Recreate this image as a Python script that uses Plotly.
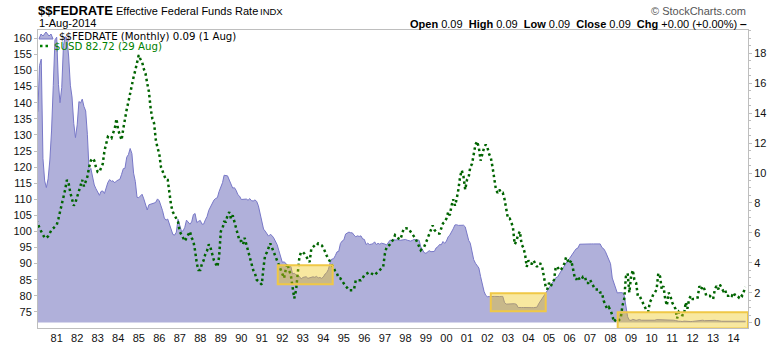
import pandas as pd
import plotly.graph_objects as go

# Effective federal funds rate, monthly averages (%), Jan 1980 - Aug 2014
fedrate = [
    13.82, 14.13, 17.19, 17.61, 10.98, 9.47, 9.03, 9.61, 10.87, 12.81, 15.85, 18.90,
    19.08, 15.93, 14.70, 15.72, 18.52, 19.10, 19.04, 17.82, 15.87, 15.08, 13.31, 12.37,
    13.22, 14.78, 14.68, 14.94, 14.45, 14.15, 12.59, 10.12, 10.31, 9.71, 9.20, 8.95,
    8.68, 8.51, 8.77, 8.80, 8.63, 8.98, 9.37, 9.56, 9.45, 9.48, 9.34, 9.47,
    9.56, 9.59, 9.91, 10.29, 10.32, 11.06, 11.23, 11.64, 11.30, 9.99, 9.43, 8.38,
    8.35, 8.50, 8.58, 8.27, 7.97, 7.53, 7.88, 7.90, 7.92, 7.99, 8.05, 8.27,
    8.14, 7.86, 7.48, 6.99, 6.85, 6.92, 6.56, 6.17, 5.89, 5.85, 6.04, 6.91,
    6.43, 6.10, 6.13, 6.37, 6.85, 6.73, 6.58, 6.73, 7.22, 7.29, 6.69, 6.77,
    6.83, 6.58, 6.58, 6.87, 7.09, 7.51, 7.75, 8.01, 8.19, 8.30, 8.35, 8.76,
    9.12, 9.36, 9.85, 9.84, 9.81, 9.53, 9.24, 8.99, 9.02, 8.84, 8.55, 8.45,
    8.23, 8.24, 8.28, 8.26, 8.18, 8.29, 8.15, 8.13, 8.20, 8.11, 7.81, 7.31,
    6.91, 6.25, 6.12, 5.91, 5.78, 5.90, 5.82, 5.66, 5.45, 5.21, 4.81, 4.43,
    4.03, 4.06, 3.98, 3.73, 3.82, 3.76, 3.25, 3.30, 3.22, 3.10, 3.09, 2.92,
    3.02, 3.03, 3.07, 2.96, 3.00, 3.04, 3.06, 3.03, 3.09, 2.99, 3.02, 2.96,
    3.05, 3.25, 3.34, 3.56, 4.01, 4.25, 4.26, 4.47, 4.73, 4.76, 5.29, 5.45,
    5.53, 5.92, 5.98, 6.05, 6.01, 6.00, 5.85, 5.74, 5.80, 5.76, 5.80, 5.60,
    5.56, 5.22, 5.31, 5.22, 5.24, 5.27, 5.40, 5.22, 5.30, 5.24, 5.31, 5.29,
    5.25, 5.19, 5.39, 5.51, 5.50, 5.56, 5.52, 5.54, 5.54, 5.50, 5.52, 5.50,
    5.56, 5.51, 5.49, 5.45, 5.49, 5.56, 5.54, 5.55, 5.51, 5.07, 4.83, 4.68,
    4.63, 4.76, 4.81, 4.74, 4.74, 4.76, 4.99, 5.07, 5.22, 5.20, 5.42, 5.30,
    5.45, 5.73, 5.85, 6.02, 6.27, 6.53, 6.54, 6.50, 6.52, 6.51, 6.51, 6.40,
    5.98, 5.49, 5.31, 4.80, 4.21, 3.97, 3.77, 3.65, 3.07, 2.49, 2.09, 1.82,
    1.73, 1.74, 1.73, 1.75, 1.75, 1.75, 1.73, 1.74, 1.75, 1.75, 1.34, 1.24,
    1.24, 1.26, 1.25, 1.26, 1.26, 1.22, 1.01, 1.03, 1.01, 1.01, 1.00, 0.98,
    1.00, 1.01, 1.00, 1.00, 1.00, 1.03, 1.26, 1.43, 1.61, 1.76, 1.93, 2.16,
    2.28, 2.50, 2.63, 2.79, 3.00, 3.04, 3.26, 3.50, 3.62, 3.78, 4.00, 4.16,
    4.29, 4.49, 4.59, 4.79, 4.94, 4.99, 5.24, 5.25, 5.25, 5.25, 5.25, 5.24,
    5.25, 5.26, 5.26, 5.25, 5.25, 5.25, 5.26, 5.02, 4.94, 4.76, 4.49, 4.24,
    3.94, 2.98, 2.61, 2.28, 1.98, 2.00, 2.01, 2.00, 1.81, 0.97, 0.39, 0.16,
    0.15, 0.22, 0.18, 0.15, 0.18, 0.21, 0.16, 0.16, 0.15, 0.12, 0.12, 0.12,
    0.11, 0.13, 0.16, 0.20, 0.20, 0.18, 0.18, 0.19, 0.19, 0.19, 0.19, 0.18,
    0.17, 0.16, 0.14, 0.10, 0.09, 0.09, 0.07, 0.10, 0.08, 0.07, 0.08, 0.07,
    0.08, 0.10, 0.13, 0.14, 0.16, 0.16, 0.16, 0.13, 0.14, 0.16, 0.16, 0.16,
    0.14, 0.15, 0.14, 0.15, 0.11, 0.09, 0.09, 0.08, 0.08, 0.09, 0.08, 0.09,
    0.07, 0.07, 0.08, 0.09, 0.09, 0.10, 0.09, 0.09,
]

# US Dollar Index, monthly, Jan 1980 - Aug 2014
usd = [
    103.5, 102.5, 101, 100, 99, 98, 98, 98.5, 99.5, 100.5, 101, 101.5,
    102, 104, 106, 108, 110, 113, 116, 115, 112, 110, 108, 109,
    111, 113, 114, 116, 114, 115.5, 117, 120, 122, 122.7, 122, 120,
    118.5, 118.5, 120, 121, 125, 127, 129.4, 129, 128.9, 130.5, 132, 135,
    131.5, 130, 128.4, 132, 135.6, 138, 140.3, 143, 146, 148, 150.1, 153,
    154.8, 153.5, 152.7, 150.5, 149.1, 146, 143.4, 138.2, 135, 133.6, 128.4, 126,
    124.2, 120, 118.5, 117, 116, 116, 112, 108, 106, 105, 104, 103,
    100, 99, 98, 97, 98, 99, 100, 98, 97, 94, 90, 88,
    88, 90, 91, 93, 94, 96, 95, 93, 91, 90, 89, 92,
    100, 101, 103, 103, 105, 106, 104, 105, 103, 101, 99, 97,
    97, 96, 98, 96, 94, 92, 90, 88, 87, 85, 84.5, 84,
    83.5, 89, 92.6, 93.5, 94.7, 96.3, 95, 93.6, 92, 91, 89.5, 88,
    86.4, 85.5, 88, 90, 88, 86.4, 82.8, 79.2, 81.7, 88, 92.1, 93.6,
    93.6, 93, 92.1, 91, 90.5, 94.7, 95.2, 95.7, 95.5, 96.3, 96, 95.7,
    95, 93.6, 92.5, 91.6, 90.5, 89.5, 88.9, 87.5, 86.9, 85.5, 85.4, 84.5,
    83.8, 83, 82.5, 81.7, 81.7, 81.7, 82, 84.8, 84.8, 84.8, 84.8, 85.5,
    86.4, 86.8, 87, 87.4, 87, 86.8, 86.4, 87, 87.4, 88, 88.5, 89,
    93.1, 95.2, 95.5, 96, 96.8, 97.5, 98.9, 98.5, 97.8, 97.5, 99, 100.9,
    101, 101, 100.9, 100, 99.4, 98.5, 97.8, 96.5, 95.2, 94.2, 94.8, 95.2,
    96.5, 98, 99.4, 100.5, 101.9, 100.5, 99.9, 99.4, 99.4, 101, 102.5, 103,
    104, 106, 105, 108, 110, 108, 110, 113, 117, 119, 117, 113,
    116, 117, 120, 121, 124, 127, 128, 126, 122, 124, 126, 127,
    126, 124, 123, 120, 117, 113, 112, 113, 112, 112, 110, 107,
    104, 104, 103, 101, 96, 97, 99, 100, 96, 95, 93, 89,
    91, 90, 90, 91, 90, 89, 90, 90, 89, 86, 83, 82,
    84, 83, 84, 85, 89, 89, 88, 88, 89, 90, 92, 91,
    90, 91, 89, 86, 85, 86, 85, 85, 86, 86, 84, 84,
    85, 84, 83, 82, 82, 82, 81, 81, 78.5, 77, 76, 76.5,
    75.5, 74, 71.9, 72.5, 73, 72.5, 73, 77, 79, 86, 87, 81,
    86, 88, 85, 84, 80, 80, 79, 78, 76.5, 75.5, 75, 78,
    79, 80.5, 81, 82, 87, 86, 82, 83, 79, 77, 81, 80,
    78, 77, 76, 73, 75, 74.5, 74, 74, 78, 76, 79, 80,
    79, 79, 79.5, 79.5, 83, 82, 83, 82, 80, 80, 80, 79.5,
    79, 82, 83, 82, 83.5, 82.5, 81.5, 82, 80, 80, 80.5, 80,
    81, 80, 80, 79.5, 80.5, 80, 81.5, 82.72,
]

# Highlighted periods of very low policy rates (start, end, low %, high %)
box_starts = ["1991-10-12", "2002-03-01", "2008-05-08"]
box_ends = ["1994-06-16", "2004-11-03", "2014-09-14"]
box_lows = [2.56, 0.76, -0.4]
box_highs = [3.84, 1.96, 0.69]

usd_ticks = list(range(75, 165, 5))

fed_dates = pd.date_range("1980-01-01", periods=len(fedrate), freq="MS")
usd_dates = pd.date_range("1980-01-01", periods=len(usd), freq="MS")

W, H = 780, 345
ML, MR, MT, MB = 38, 32, 30, 17
PW, PH = W - ML - MR, H - MT - MB


def px(x):
    return (x - ML) / PW


def py(y):
    return 1 - (y - MT) / PH


fig = go.Figure()

fig.add_trace(go.Scatter(
    x=fed_dates, y=fedrate, yaxis="y", mode="lines",
    line=dict(color="rgb(120,120,200)", width=1),
    fill="tozeroy", fillcolor="rgb(176,176,218)",
    name="$$FEDRATE", hoverinfo="skip",
))
fig.add_trace(go.Scatter(
    x=usd_dates, y=usd, yaxis="y2", mode="lines",
    line=dict(color="rgb(0,100,0)", width=2.5, dash="2.5px,3px"),
    name="$USD", hoverinfo="skip",
))

shapes = []
for x0, x1, y0, y1 in zip(box_starts, box_ends, box_lows, box_highs):
    shapes.append(dict(
        type="rect", xref="x", yref="y", x0=x0, x1=x1, y0=y0, y1=y1,
        fillcolor="rgba(237,197,17,0.4)",
        line=dict(color="rgb(240,200,70)", width=2), layer="above",
    ))

# legend glyphs
shapes.append(dict(
    type="path", xref="paper", yref="paper", xsizemode="pixel", ysizemode="pixel",
    xanchor=0, yanchor=1,
    path="M 1,-9 L 3,-4 L 5,-6 L 8,-2 L 11,-6 L 13,-4 L 15,-9 Z",
    fillcolor="rgb(176,176,218)", line=dict(color="rgb(120,120,200)", width=1),
    layer="above",
))
shapes.append(dict(
    type="line", xref="paper", yref="paper", xsizemode="pixel", ysizemode="pixel",
    xanchor=0, yanchor=1, x0=2, x1=13, y0=-16, y1=-16,
    line=dict(color="rgb(0,128,0)", width=2.5, dash="2.5px,3px"), layer="above",
))

NB = "\u00a0"
anns = [
    dict(x=px(36), y=py(10), text="<b>$$FEDRATE</b>", xanchor="left",
         font=dict(family="Liberation Sans, Arial", size=13, color="#000")),
    dict(x=px(114), y=py(11), text="Effective Federal Funds Rate", xanchor="left",
         font=dict(family="Liberation Sans, Arial", size=11, color="#000")),
    dict(x=px(258), y=py(11.5), text="INDX", xanchor="left",
         font=dict(family="Liberation Sans, Arial", size=9.5, color="#000")),
    dict(x=px(37), y=py(23.5), text="1-Aug-2014", xanchor="left",
         font=dict(family="Liberation Sans, Arial", size=11, color="#000")),
    dict(x=px(748), y=py(11.5), text="\u00a9 StockCharts.com", xanchor="right",
         font=dict(family="Liberation Sans, Arial", size=11, color="#555")),
    dict(x=px(749), y=py(24),
         text=("<b>Open</b> 0.09" + NB * 2 + "<b>High</b> 0.09" + NB * 2 + "<b>Low</b> 0.09"
               + NB * 2 + "<b>Close</b> 0.09" + NB * 2 + "<b>Chg</b> +0.00 (+0.00%) <b>\u2012</b>"),
         xanchor="right",
         font=dict(family="Liberation Sans, Arial", size=11, color="#000")),
    dict(x=px(57), y=py(36.5), text="$$FEDRATE (Monthly) 0.09 (1 Aug)", xanchor="left",
         font=dict(family="DejaVu Sans", size=10.2, color="#000")),
    dict(x=px(52), y=py(47), text="$USD 82.72 (29 Aug)", xanchor="left",
         font=dict(family="DejaVu Sans", size=10.2, color="rgb(0,128,0)")),
]
for a in anns:
    a.update(xref="paper", yref="paper", yanchor="middle", showarrow=False)

axis_line = "rgb(190,190,190)"
tick_font = dict(family="Liberation Sans, Arial", size=11, color="#111")

fig.update_layout(
    width=W, height=H,
    margin=dict(l=ML, r=MR, t=MT, b=MB, pad=0, autoexpand=False),
    paper_bgcolor="white", plot_bgcolor="white",
    showlegend=False,
    shapes=shapes, annotations=anns,
    xaxis=dict(
        type="date", range=["1980-02-03", "2014-09-14"], automargin=False,
        tick0="1981-01-01", dtick="M12", tickformat="%y",
        showgrid=False, zeroline=False, ticks="", ticklen=0,
        showline=True, linecolor=axis_line, linewidth=1, mirror=True,
        tickfont=tick_font,
    ),
    yaxis=dict(
        side="right", range=[-0.36, 19.56], tick0=0, dtick=2, automargin=False,
        showgrid=False, zeroline=False, ticks="outside", ticklen=3,
        tickcolor=axis_line, showline=True, linecolor=axis_line, linewidth=1,
        mirror=True, tickfont=tick_font,
        minor=dict(ticks="outside", ticklen=2, dtick=0.5, tickcolor=axis_line),
    ),
    yaxis2=dict(
        side="left", overlaying="y", range=[70.0, 162.6], automargin=False,
        tickmode="array", tickvals=usd_ticks,
        showgrid=False, zeroline=False, ticks="outside", ticklen=3,
        tickcolor=axis_line, showline=True, linecolor=axis_line, linewidth=1,
        tickfont=tick_font,
    ),
)

fig.write_html("out.html")
